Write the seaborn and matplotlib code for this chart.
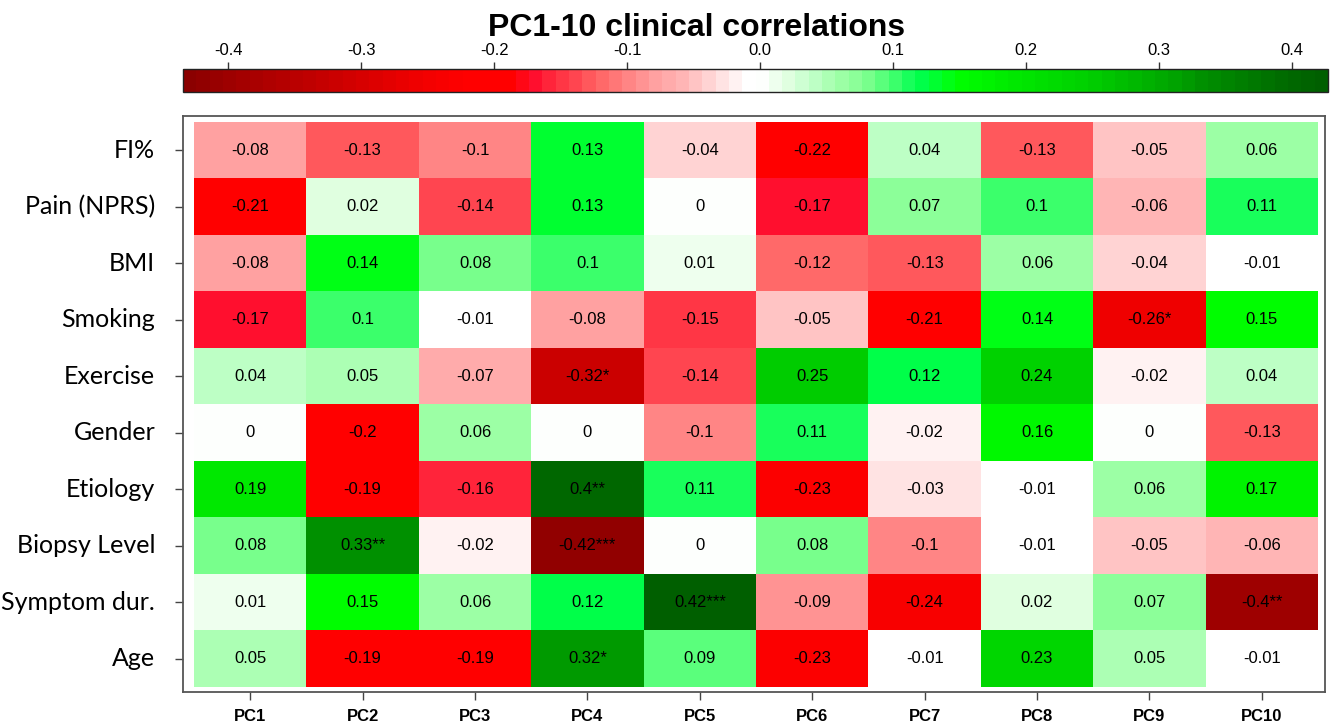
import numpy as np
import pandas as pd
import matplotlib
matplotlib.use("Agg")
import matplotlib.pyplot as plt
from matplotlib.colors import LinearSegmentedColormap, Normalize
from matplotlib.cm import ScalarMappable
import seaborn as sns

# ---------------- data ----------------
pcs = ["PC1", "PC2", "PC3", "PC4", "PC5", "PC6", "PC7", "PC8", "PC9", "PC10"]
variables = ["FI%", "Pain (NPRS)", "BMI", "Smoking", "Exercise", "Gender",
             "Etiology", "Biopsy Level", "Symptom dur.", "Age"]

fi_pct    = [-0.08, -0.13, -0.10, 0.13, -0.04, -0.22, 0.04, -0.13, -0.05, 0.06]
pain      = [-0.21, 0.02, -0.14, 0.13, 0.00, -0.17, 0.07, 0.10, -0.06, 0.11]
bmi       = [-0.08, 0.14, 0.08, 0.10, 0.01, -0.12, -0.13, 0.06, -0.04, -0.01]
smoking   = [-0.17, 0.10, -0.01, -0.08, -0.15, -0.05, -0.21, 0.14, -0.26, 0.15]
exercise  = [0.04, 0.05, -0.07, -0.32, -0.14, 0.25, 0.12, 0.24, -0.02, 0.04]
gender    = [0.00, -0.20, 0.06, 0.00, -0.10, 0.11, -0.02, 0.16, 0.00, -0.13]
etiology  = [0.19, -0.19, -0.16, 0.40, 0.11, -0.23, -0.03, -0.01, 0.06, 0.17]
biopsy    = [0.08, 0.33, -0.02, -0.42, 0.00, 0.08, -0.10, -0.01, -0.05, -0.06]
symptom   = [0.01, 0.15, 0.06, 0.12, 0.42, -0.09, -0.24, 0.02, 0.07, -0.40]
age       = [0.05, -0.19, -0.19, 0.32, 0.09, -0.23, -0.01, 0.23, 0.05, -0.01]

# significance stars (row, column) -> stars
stars = {("Smoking", "PC9"): "*", ("Exercise", "PC4"): "*",
         ("Etiology", "PC4"): "**", ("Biopsy Level", "PC2"): "**",
         ("Biopsy Level", "PC4"): "***", ("Symptom dur.", "PC5"): "***",
         ("Symptom dur.", "PC10"): "**", ("Age", "PC4"): "*"}

cbar_ticks = [-0.4, -0.3, -0.2, -0.1, 0.0, 0.1, 0.2, 0.3, 0.4]
cbar_labels = ["-0.4", "-0.3", "-0.2", "-0.1", "0.0", "0.1", "0.2", "0.3", "0.4"]
vmin, vmax = -0.434, 0.427

df = pd.DataFrame([fi_pct, pain, bmi, smoking, exercise, gender,
                   etiology, biopsy, symptom, age], index=variables, columns=pcs)

annot = df.copy().astype(object)
for r in variables:
    for c in pcs:
        v = round(float(df.loc[r, c]), 2)
        s = f"{v:g}"
        if s == "-0":
            s = "0"
        annot.loc[r, c] = s + stars.get((r, c), "")

# ---------------- colormap ----------------
nodes = [(-0.434, "#8B0000"), (-0.40, "#A00000"), (-0.32, "#CC0000"),
         (-0.26, "#F00000"), (-0.225, "#FF0000"), (-0.19, "#FF0000"),
         (-0.17, "#FF1030"), (-0.155, "#FF3040"), (-0.14, "#FF4550"),
         (-0.125, "#FF6262"), (-0.10, "#FF8585"), (-0.08, "#FFA0A0"),
         (-0.06, "#FFB4B4"), (-0.045, "#FFCACA"), (-0.02, "#FFF0F0"),
         (-0.011, "#FFFFFF"), (0.0, "#FFFFFF"), (0.012, "#EEFFEE"),
         (0.022, "#E0FFE0"), (0.04, "#C0FFC8"), (0.06, "#A0FFA8"),
         (0.08, "#80FF90"), (0.10, "#45FF70"), (0.12, "#00FF50"),
         (0.14, "#00FF20"), (0.15, "#00FF00"), (0.19, "#00EA00"),
         (0.24, "#00D400"), (0.255, "#00CC00"), (0.32, "#00A000"),
         (0.335, "#009000"), (0.40, "#006A00"), (0.427, "#005F00")]
cmap = LinearSegmentedColormap.from_list(
    "rwg", [((v - vmin) / (vmax - vmin), c) for v, c in nodes], N=86)
norm = Normalize(vmin=vmin, vmax=vmax)

# ---------------- figure ----------------
W, H = 1330, 724
fig = plt.figure(figsize=(W / 100, H / 100), dpi=100)

def fx(px):
    return px / W

def fy(py):
    return 1 - py / H

ax = fig.add_axes([fx(183), fy(692), fx(1325) - fx(183), fy(116) - fy(692)])
sns.heatmap(df, ax=ax, cmap=cmap, norm=norm, cbar=False, annot=annot, fmt="",
            annot_kws={"family": "Liberation Sans", "size": 12, "color": "black"},
            linewidths=0)

ax.set_xlim(-0.098, 10.062)
ax.set_ylim(10.09, -0.106)
for sp in ax.spines.values():
    sp.set_visible(True)
    sp.set_color("#555555")
    sp.set_linewidth(1.3)
ax.tick_params(axis="both", which="both", direction="out", length=6,
               width=1.0, color="#444444")
ax.tick_params(axis="x", pad=6)
ax.tick_params(axis="y", pad=14)
ax.set_xticklabels(pcs, rotation=0, fontfamily="Liberation Sans",
                   fontweight="bold", fontsize=12)
ax.set_yticklabels(variables, rotation=0, fontfamily="Lato", fontsize=18)
ax.set_xlabel("")
ax.set_ylabel("")

# colorbar
cax = fig.add_axes([fx(183), fy(92), fx(1328) - fx(183), fy(69) - fy(92)])
sm = ScalarMappable(norm=norm, cmap=cmap)
cb = fig.colorbar(sm, cax=cax, orientation="horizontal")
cb.set_ticks(cbar_ticks)
cb.set_ticklabels(cbar_labels)
cax.xaxis.set_ticks_position("top")
cax.tick_params(axis="x", length=5, width=1.0, color="#333333", pad=3,
                labelsize=12)
for lab in cax.get_xticklabels():
    lab.set_fontfamily("Liberation Sans")
cb.outline.set_edgecolor("#222222")
cb.outline.set_linewidth(1.0)

fig.text(fx(697), fy(36), "PC1-10 clinical correlations", ha="center",
         va="baseline", fontfamily="Liberation Sans", fontweight="bold",
         fontsize=23)

fig.savefig("out.png", dpi=100)
